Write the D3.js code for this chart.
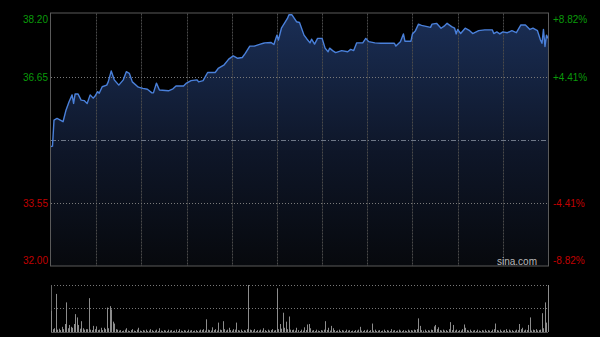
<!DOCTYPE html>
<html><head><meta charset="utf-8">
<script src="https://cdn.jsdelivr.net/npm/d3@7/dist/d3.min.js"></script>
<style>html,body{margin:0;padding:0;background:#000;}svg{display:block;}</style>
</head><body>
<svg id="c" width="600" height="337"></svg>
<script>
// ---- data ----
const prevClose = 35.10;
const priceTicksLeft = [38.20, 36.65, 33.55, 32.00];
const pctTicksRight = ["+8.82%", "+4.41%", "-4.41%", "-8.82%"];
const totalMinutes = 330;
const gridMinutes = [30, 60, 90, 120, 150, 180, 210, 240, 270, 300];

const minutes = [0,1,2,4,8,10,12,14,15,16,18,20,22,24,26,28,29,31,32,34,37,38,40,42,45,48,50,52,54,58,61,64,67,68,70,72,78,81,83,88,90,93,97,98,101,104,109,111,115,118,121,124,127,129,132,135,139,141,142,146,148,150,151,153,157,158,160,163,165,168,170,172,173,175,177,180,182,184,185,187,189,193,197,199,201,203,205,207,209,211,215,219,225,228,229,232,234,235,239,240,242,244,246,252,253,256,259,261,263,266,268,269,270,272,275,278,280,284,288,293,294,296,298,300,303,306,309,312,315,318,320,323,325,326,327,328,329,330];
const prices = [34.94,34.95,35.59,35.63,35.55,35.84,36.04,36.21,36.00,36.23,36.23,36.08,36.07,36.00,36.21,36.13,36.17,36.29,36.25,36.41,36.45,36.53,36.80,36.58,36.45,36.58,36.78,36.74,36.53,36.40,36.37,36.35,36.26,36.26,36.50,36.33,36.31,36.36,36.43,36.43,36.50,36.56,36.58,36.53,36.56,36.76,36.76,36.86,36.95,37.09,37.17,37.11,37.13,37.23,37.41,37.41,37.46,37.48,37.49,37.50,37.45,37.68,37.56,37.85,38.09,38.18,38.18,38.01,37.99,37.68,37.58,37.49,37.58,37.46,37.60,37.60,37.36,37.27,37.36,37.30,37.25,37.30,37.27,37.33,37.30,37.49,37.49,37.49,37.60,37.52,37.49,37.48,37.48,37.48,37.41,37.52,37.71,37.53,37.53,37.71,37.79,37.95,37.92,37.87,37.95,37.97,37.85,37.90,37.97,37.89,37.85,37.71,37.82,37.72,37.85,37.79,37.72,37.79,37.81,37.81,37.72,37.76,37.71,37.76,37.74,37.79,37.74,37.93,37.93,37.82,37.85,37.79,37.56,37.48,37.82,37.40,37.68,37.60];

// per-minute volume (relative units), minutes 0..330
const volumes = [
45,6,8,81,5,7,4,11,6,17,63,8,15,11,9,17,38,31,15,7,
23,8,5,6,6,72,5,4,13,6,12,4,5,9,4,9,6,52,8,55,
48,22,18,6,5,3,4,2,3,5,8,3,2,4,6,3,2,5,9,3,
2,4,3,5,2,3,6,4,2,3,5,2,8,3,2,4,3,2,5,3,
4,2,3,5,2,6,3,2,4,3,2,5,3,4,2,3,4,2,3,5,
4,6,3,27,5,4,3,10,4,6,3,20,5,4,23,6,3,5,9,4,
3,6,5,20,4,3,5,2,4,3,6,100,5,4,3,6,2,4,3,5,
3,8,4,2,5,3,4,6,3,4,93,6,17,7,41,9,22,6,33,5,
4,5,3,9,4,2,5,3,10,4,16,17,8,3,4,2,5,3,2,4,
3,5,23,4,9,3,13,8,4,2,3,5,2,4,3,2,5,3,4,2,
3,2,4,3,5,11,3,2,4,3,5,2,4,18,3,5,2,3,4,2,
3,5,2,4,3,2,6,3,4,2,3,5,3,2,4,3,2,5,3,4,
3,5,4,6,29,13,4,3,5,2,4,3,5,4,12,15,6,10,4,3,
5,3,4,2,6,21,4,15,3,5,2,4,3,6,16,9,4,3,5,2,
3,4,2,5,3,2,4,3,5,2,4,3,2,5,6,18,4,3,5,2,
3,4,6,2,5,3,4,2,3,5,4,17,6,9,3,5,4,15,31,3,
5,4,6,3,4,5,40,8,63,20,100];

// ---- drawing ----
const svg = d3.select("#c");
const L = 51, R = 548, T = 13.5, B = 266;
const VT = 285, VB = 332;
const font = "'Liberation Sans', Arial, sans-serif";

const x = d3.scaleLinear().domain([0, totalMinutes]).range([L, R]);
const y = d3.scaleLinear().domain([32.00, 38.20]).range([B, 14]);
const yv = d3.scaleLinear().domain([0, d3.max(volumes)]).range([VB, VT]);

const defs = svg.append("defs");
const grad = defs.append("linearGradient").attr("id","fillg")
  .attr("gradientUnits","userSpaceOnUse").attr("x1",0).attr("x2",0).attr("y1",14).attr("y2",B);
grad.append("stop").attr("offset","0%").attr("stop-color","#1a2e55");
grad.append("stop").attr("offset","55%").attr("stop-color","#0e1628");
grad.append("stop").attr("offset","100%").attr("stop-color","#07090d");

const pts = minutes.map((m,i)=>[m, prices[i]]);

// area
svg.append("path").datum(pts)
  .attr("d", d3.area().x(d=>x(d[0])).y0(B).y1(d=>y(d[1])))
  .attr("fill","url(#fillg)");

// vertical grid lines
svg.append("g").selectAll("line").data(gridMinutes).join("line")
  .attr("x1",d=>Math.round(x(d))+0.5).attr("x2",d=>Math.round(x(d))+0.5)
  .attr("y1",T).attr("y2",B)
  .attr("stroke","#4a4a4a").attr("stroke-width",1).attr("stroke-dasharray","2,1");

// horizontal grid lines
const hLines = [36.65, 33.55];
svg.append("g").selectAll("line").data(hLines).join("line")
  .attr("x1",L).attr("x2",R)
  .attr("y1",d=>Math.round(y(d))+0.5).attr("y2",d=>Math.round(y(d))+0.5)
  .attr("stroke","#7a7a7a").attr("stroke-width",1).attr("stroke-dasharray","1,2");

// prev close line
svg.append("line")
  .attr("x1",L).attr("x2",R)
  .attr("y1",Math.round(y(prevClose))+0.5).attr("y2",Math.round(y(prevClose))+0.5)
  .attr("stroke","#6f7888").attr("stroke-width",1).attr("stroke-dasharray","5,2,1,2");

// price line
svg.append("path").datum(pts)
  .attr("d", d3.line().x(d=>x(d[0])).y(d=>y(d[1])))
  .attr("fill","none").attr("stroke","#4a80da").attr("stroke-width",1.4)
  .attr("stroke-linejoin","round");

// frame
svg.append("rect").attr("x",L-0.5).attr("y",T-0.5).attr("width",R-L+1).attr("height",B-T+0.5)
  .attr("fill","none").attr("stroke","#5a5a5a").attr("stroke-width",1);

// axis labels
const labelY = [19, 77, 203, 260];
const colors = ["#0a9a0a","#0a9a0a","#c00000","#c00000"];
svg.append("g").selectAll("text").data(priceTicksLeft).join("text")
  .attr("x",48).attr("y",(d,i)=>labelY[i]).attr("dy","0.35em")
  .attr("text-anchor","end").attr("font-family",font).attr("font-size",10)
  .attr("fill",(d,i)=>colors[i]).text(d=>d.toFixed(2));
svg.append("g").selectAll("text").data(pctTicksRight).join("text")
  .attr("x",553).attr("y",(d,i)=>labelY[i]).attr("dy","0.35em")
  .attr("text-anchor","start").attr("font-family",font).attr("font-size",10)
  .attr("fill",(d,i)=>colors[i]).text(d=>d);

// watermark
svg.append("text").attr("x",537).attr("y",261).attr("dy","0.35em")
  .attr("text-anchor","end").attr("font-family",font).attr("font-size",10)
  .attr("fill","#b8b8b8").text("sina.com");

// volume panel
svg.append("line").attr("x1",L).attr("x2",R).attr("y1",VT+0.5).attr("y2",VT+0.5)
  .attr("stroke","#777").attr("stroke-dasharray","1,2");
svg.append("line").attr("x1",L).attr("x2",R).attr("y1",(VT+VB)/2).attr("y2",(VT+VB)/2)
  .attr("stroke","#777").attr("stroke-dasharray","1,2");
svg.append("line").attr("x1",L).attr("x2",R).attr("y1",VB+0.5).attr("y2",VB+0.5)
  .attr("stroke","#555");
svg.append("line").attr("x1",L+0.5).attr("x2",L+0.5).attr("y1",VT).attr("y2",VB)
  .attr("stroke","#666");

svg.append("g").selectAll("line").data(volumes).join("line")
  .attr("x1",(d,i)=>Math.round(x(i))+0.5).attr("x2",(d,i)=>Math.round(x(i))+0.5)
  .attr("y1",VB).attr("y2",d=>yv(d))
  .attr("stroke","#8c8c8c").attr("stroke-width",1);
</script>
</body></html>
